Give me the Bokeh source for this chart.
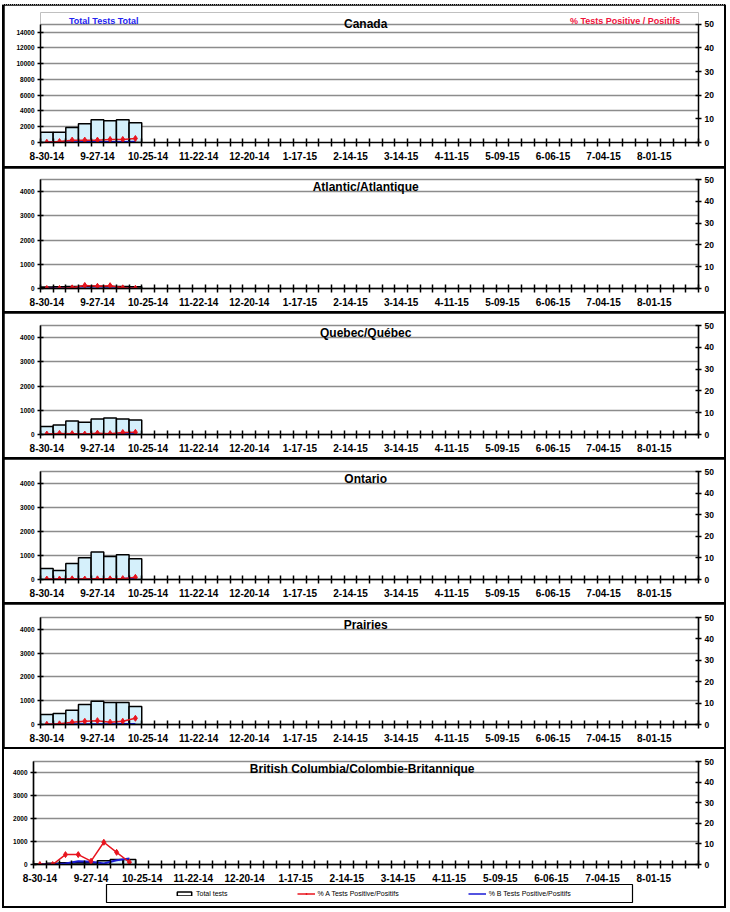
from bokeh.plotting import figure
from bokeh.models import (Range1d, LinearAxis, FixedTicker, Label, Legend,
                          LegendItem)
from bokeh.layouts import column
from bokeh.embed import file_html
from bokeh.resources import INLINE

# ---------------- data ----------------
N_WEEKS = 52  # weekly categories from 8-30-14 to 8-22-15
tick_labels = ["8-30-14", "9-27-14", "10-25-14", "11-22-14", "12-20-14",
               "1-17-15", "2-14-15", "3-14-15", "4-11-15", "5-09-15",
               "6-06-15", "7-04-15", "8-01-15"]
TICK_EVERY = 4
week_idx = [0, 1, 2, 3, 4, 5, 6, 7]

canada_total = [1310, 1310, 1900, 2370, 2875, 2750, 2875, 2500]
canada_a = [0.1, 0.4, 1.0, 1.0, 1.0, 1.3, 1.3, 1.7]
canada_b = [0.1, 0.1, 0.1, 0.2, 0.2, 0.2, 0.2, 0.3]

atlantic_total = [60, 70, 80, 90, 90, 80, 80, 70]
atlantic_a = [0.0, 0.0, 0.3, 1.4, 1.0, 1.3, 0.3, 0.1]
atlantic_b = [0.0, 0.0, 0.0, 0.0, 0.0, 0.0, 0.0, 0.0]

quebec_total = [335, 390, 557, 502, 641, 683, 641, 600]
quebec_a = [0.2, 0.5, 0.4, 0.2, 0.6, 0.4, 0.9, 1.0]
quebec_b = [0.1, 0.1, 0.1, 0.1, 0.1, 0.1, 0.1, 0.2]

ontario_total = [460, 376, 669, 906, 1143, 962, 1031, 864]
ontario_a = [0.2, 0.2, 0.3, 0.2, 0.3, 0.3, 0.4, 1.0]
ontario_b = [0.0, 0.0, 0.1, 0.1, 0.1, 0.2, 0.3, 0.5]

prairies_total = [418, 460, 600, 836, 976, 920, 920, 753]
prairies_a = [0.1, 0.3, 1.0, 1.5, 1.8, 1.1, 1.5, 2.9]
prairies_b = [0.0, 0.0, 0.1, 0.1, 0.1, 0.1, 0.2, 0.2]

bc_total = [20, 50, 80, 80, 80, 160, 220, 220]
bc_a = [0.0, 0.0, 4.8, 4.8, 1.6, 10.8, 5.9, 1.1]
bc_b = [0.0, 0.0, 0.5, 1.6, 1.3, 0.5, 2.1, 2.9]

# ---------------- style ----------------
FONT = "Liberation Sans"
BAR_FILL = "#d5f0fb"
RED = "#e8141e"
BLUE = "#1a1ad6"
GRID = "#8c8c8c"
FIG_W = 720
TITLE_X = 25.2


def style_axis(ax, size):
    ax.axis_line_color = "black"
    ax.axis_line_width = 1.5
    ax.major_tick_line_color = "black"
    ax.major_tick_line_width = 1.5
    ax.major_label_text_font = FONT
    ax.major_label_text_font_style = "bold"
    ax.major_label_text_font_size = size
    ax.major_label_text_color = "black"


def panel(title, totals, pos_a, pos_b, ymax, ystep, yticks_max, height,
          top, bottom, left, frame_w, header=False, ymax_view=None,
          pct_view=50):
    if ymax_view is None:
        ymax_view = ymax
    p = figure(width=FIG_W, height=height,
               x_range=Range1d(-0.5, N_WEEKS - 0.5),
               y_range=Range1d(0, ymax_view),
               output_backend="svg", toolbar_location=None,
               min_border_left=left, min_border_right=FIG_W - left - frame_w,
               min_border_top=top, min_border_bottom=bottom,
               frame_align=False)
    p.extra_y_ranges = {"pct": Range1d(0, pct_view)}
    p.background_fill_color = "white"
    p.border_fill_color = "white"
    p.outline_line_color = GRID if not header else None
    p.outline_line_width = 1.5

    # x axis
    xa = p.xaxis[0]
    xa.ticker = FixedTicker(ticks=list(range(0, N_WEEKS, TICK_EVERY)),
                            minor_ticks=[i - 0.5 for i in range(N_WEEKS + 1)])
    xa.major_label_overrides = {i * TICK_EVERY: lab
                                for i, lab in enumerate(tick_labels)}
    style_axis(xa, "10px")
    xa.major_tick_in = 0
    xa.major_tick_out = 0
    xa.minor_tick_in = 4
    xa.minor_tick_out = 4
    xa.minor_tick_line_color = "black"
    xa.minor_tick_line_width = 1.5
    xa.major_label_standoff = 5

    # left axis
    ya = p.yaxis[0]
    ya.ticker = FixedTicker(ticks=list(range(0, yticks_max + 1, ystep)))
    ya.bounds = (0, ymax)
    style_axis(ya, "6.5px")
    ya.major_tick_in = 3
    ya.major_tick_out = 3
    ya.minor_tick_line_color = None
    ya.major_label_standoff = 3

    # right axis
    ra = LinearAxis(y_range_name="pct", bounds=(0, 50),
                    ticker=FixedTicker(ticks=[0, 10, 20, 30, 40, 50]))
    style_axis(ra, "8.5px")
    ra.major_tick_in = 3
    ra.major_tick_out = 3
    ra.minor_tick_line_color = None
    ra.major_label_standoff = 3
    p.add_layout(ra, "right")

    p.xgrid.visible = False
    grid_ticks = list(range(0, yticks_max + 1, ystep))
    if header:
        grid_ticks.append(ymax)
    p.ygrid.ticker = FixedTicker(ticks=grid_ticks)
    p.ygrid.grid_line_color = GRID
    p.ygrid.grid_line_width = 1.3

    p.vbar(x=week_idx, top=totals, width=1, bottom=0, fill_color=BAR_FILL,
           line_color="black", line_width=1.5)
    p.line(week_idx, pos_b, y_range_name="pct", line_color=BLUE, line_width=2)
    p.line(week_idx, pos_a, y_range_name="pct", line_color=RED, line_width=1.5)
    p.scatter(week_idx, pos_a, y_range_name="pct", marker="diamond", size=6,
              fill_color=RED, line_color=RED)

    if header:
        p.add_layout(Label(x=TITLE_X, y=ymax, text=title, text_align="center",
                           text_baseline="alphabetic", text_font=FONT,
                           text_font_style="bold", text_font_size="12px",
                           text_color="black"))
        up = ymax * 1.025
        p.add_layout(Label(x=4.5, y=up, text="Total Tests Total",
                           text_align="center", text_baseline="alphabetic",
                           text_font=FONT, text_font_style="bold",
                           text_font_size="9px", text_color="#2424f0"))
        p.add_layout(Label(x=45.7, y=up,
                           text="% Tests Positive / Positifs",
                           text_align="center", text_baseline="alphabetic",
                           text_font=FONT, text_font_style="bold",
                           text_font_size="9px", text_color="#f0143c"))
    else:
        p.add_layout(Label(x=TITLE_X, y=ymax, text=title, text_align="center",
                           text_baseline="top", text_font=FONT,
                           text_font_style="bold", text_font_size="12px",
                           text_color="black"))
    return p


p1 = panel("Canada", canada_total, canada_a, canada_b, 15000, 2000, 14000,
           161, 7, 24, 36, 658, header=True, ymax_view=16500, pct_view=55)
p2 = panel("Atlantic/Atlantique", atlantic_total, atlantic_a, atlantic_b,
           4500, 1000, 4000, 143, 11, 23, 36, 658)
p3 = panel("Quebec/Québec", quebec_total, quebec_a, quebec_b,
           4500, 1000, 4000, 144, 12, 23, 36, 658)
p4 = panel("Ontario", ontario_total, ontario_a, ontario_b,
           4500, 1000, 4000, 143, 12, 23, 36, 658)
p5 = panel("Prairies", prairies_total, prairies_a, prairies_b,
           4500, 1000, 4000, 143, 13, 23, 36, 658)
p6 = panel("British Columbia/Colombie-Britannique", bc_total, bc_a, bc_b,
           4500, 1000, 4000, 135, 12, 18, 29, 665)

# ---------------- legend strip ----------------
lg = figure(width=FIG_W, height=22, x_range=Range1d(-3, -2),
            y_range=Range1d(-3, -2),
            x_axis_type=None, y_axis_type=None, output_backend="svg",
            toolbar_location=None, min_border_left=102, min_border_right=92,
            min_border_top=0, min_border_bottom=4, frame_align=False)
lg.outline_line_color = "black"
lg.outline_line_width = 1.2
lg.border_fill_color = "white"
# proxies for the legend swatches (drawn outside the visible range)
r_bar = lg.vbar(x=week_idx, top=bc_total, width=1, fill_color="white",
                line_color="black", line_width=1.5)
r_a = lg.line(week_idx, bc_a, line_color=RED, line_width=1.5)
r_am = lg.scatter(week_idx, bc_a, marker="cross", size=5, line_color=RED)
r_b = lg.line(week_idx, bc_b, line_color=BLUE, line_width=1.5)
legend = Legend(items=[LegendItem(label="Total tests", renderers=[r_bar]),
                       LegendItem(label="% A Tests Positive/Positifs",
                                  renderers=[r_a, r_am]),
                       LegendItem(label="% B Tests Positive/Positifs",
                                  renderers=[r_b])],
                orientation="horizontal", location=(69, 5), spacing=69,
                padding=0, margin=0, glyph_width=18, glyph_height=5,
                label_height=8, label_standoff=3, label_text_font=FONT,
                label_text_font_size="7px", label_text_color="black",
                border_line_alpha=0, background_fill_alpha=0)
lg.add_layout(legend)

bottom_block = column(p6, lg, spacing=0,
                      styles={"background-color": "white"})
layout = column(p1, p2, p3, p4, p5, bottom_block, spacing=2,
                styles={"background-color": "black",
                        "padding": "0px 2px 2px 2px",
                        "margin-left": "2px", "margin-top": "4px",
                        "border-top": "1px dotted #999999"})

open("out.html", "w").write(file_html(layout, INLINE))
